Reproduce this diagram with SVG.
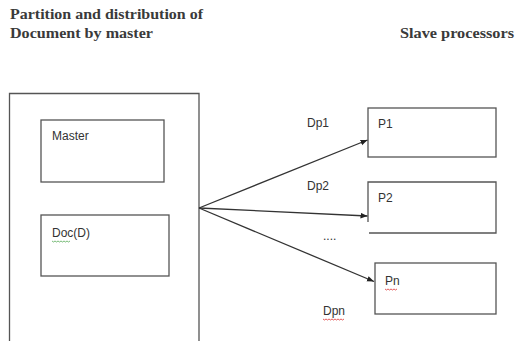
<svg xmlns="http://www.w3.org/2000/svg" width="516" height="341" viewBox="0 0 516 341">
<style>
.box{fill:#fff;stroke:#555;stroke-width:1.3}
.t{font-family:"Liberation Sans","Open Sans",sans-serif;font-size:12px;fill:#333}
.h{font-family:"Liberation Serif","DejaVu Serif",serif;font-size:14.5px;font-weight:bold;fill:#3a3a3a}
.c{stroke:#333;stroke-width:1.3;fill:none}
.sq{fill:none;stroke-width:0.8}
</style>
<defs>
<marker id="ah" viewBox="0 0 10 10" refX="10" refY="5" markerWidth="7" markerHeight="7" orient="auto" markerUnits="userSpaceOnUse">
<path d="M0,1 L10,5 L0,9 z" fill="#222"/>
</marker>
</defs>
<rect width="516" height="341" fill="#fff"/>
<text class="h" x="10" y="19" textLength="193" lengthAdjust="spacingAndGlyphs">Partition and distribution of</text>
<text class="h" x="10" y="38" textLength="143" lengthAdjust="spacingAndGlyphs">Document by master</text>
<text class="h" x="400" y="38" textLength="114" lengthAdjust="spacingAndGlyphs">Slave processors</text>
<g id="masterContainer">
<path class="box" d="M9.5,345 L9.5,93.5 L199,93.5 L199,345"/>
</g>
<g id="master">
<rect class="box" x="41" y="120" width="123" height="62"/>
<text class="t" x="52" y="140">Master</text>
</g>
<g id="doc">
<rect class="box" x="41" y="215" width="128" height="61"/>
<text class="t" x="52" y="237">Doc(D)</text>
<path class="sq" stroke="#5a5" d="M52,241 l1.5,1 l1.5,-1 l1.5,1 l1.5,-1 l1.5,1 l1.5,-1 l1.5,1 l1.5,-1 l1.5,1 l1.5,-1 l1.5,1 l1.5,-1"/>
</g>
<g id="p1">
<rect class="box" x="368" y="108" width="128" height="49"/>
<text class="t" x="378" y="128">P1</text>
</g>
<g id="p2">
<path class="box" fill="none" d="M368,222 L368,182 L496,182 L496,233 L369,233"/>
<text class="t" x="378" y="202">P2</text>
</g>
<g id="pn">
<rect class="box" x="375" y="263" width="121" height="51"/>
<text class="t" x="385" y="285">Pn</text>
<path class="sq" stroke="#d33" d="M385,289 l1.5,1 l1.5,-1 l1.5,1 l1.5,-1 l1.5,1 l1.5,-1 l1.5,1 l1.5,-1"/>
</g>
<g id="connectors">
<line class="c" x1="199" y1="208" x2="367.5" y2="140" marker-end="url(#ah)"/>
<line class="c" x1="199" y1="208" x2="367.5" y2="216" marker-end="url(#ah)"/>
<line class="c" x1="199" y1="208" x2="374" y2="281.5" marker-end="url(#ah)"/>
<text class="t" x="307" y="127">Dp1</text>
<text class="t" x="307" y="190">Dp2</text>
<text class="t" x="323" y="240" font-size="9">....</text>
<text class="t" x="323" y="315">Dpn</text>
<path class="sq" stroke="#d33" d="M323,319 l1.5,1 l1.5,-1 l1.5,1 l1.5,-1 l1.5,1 l1.5,-1 l1.5,1 l1.5,-1 l1.5,1 l1.5,-1 l1.5,1 l1.5,-1 l1.5,1 l1.5,-1"/>
</g>
</svg>
